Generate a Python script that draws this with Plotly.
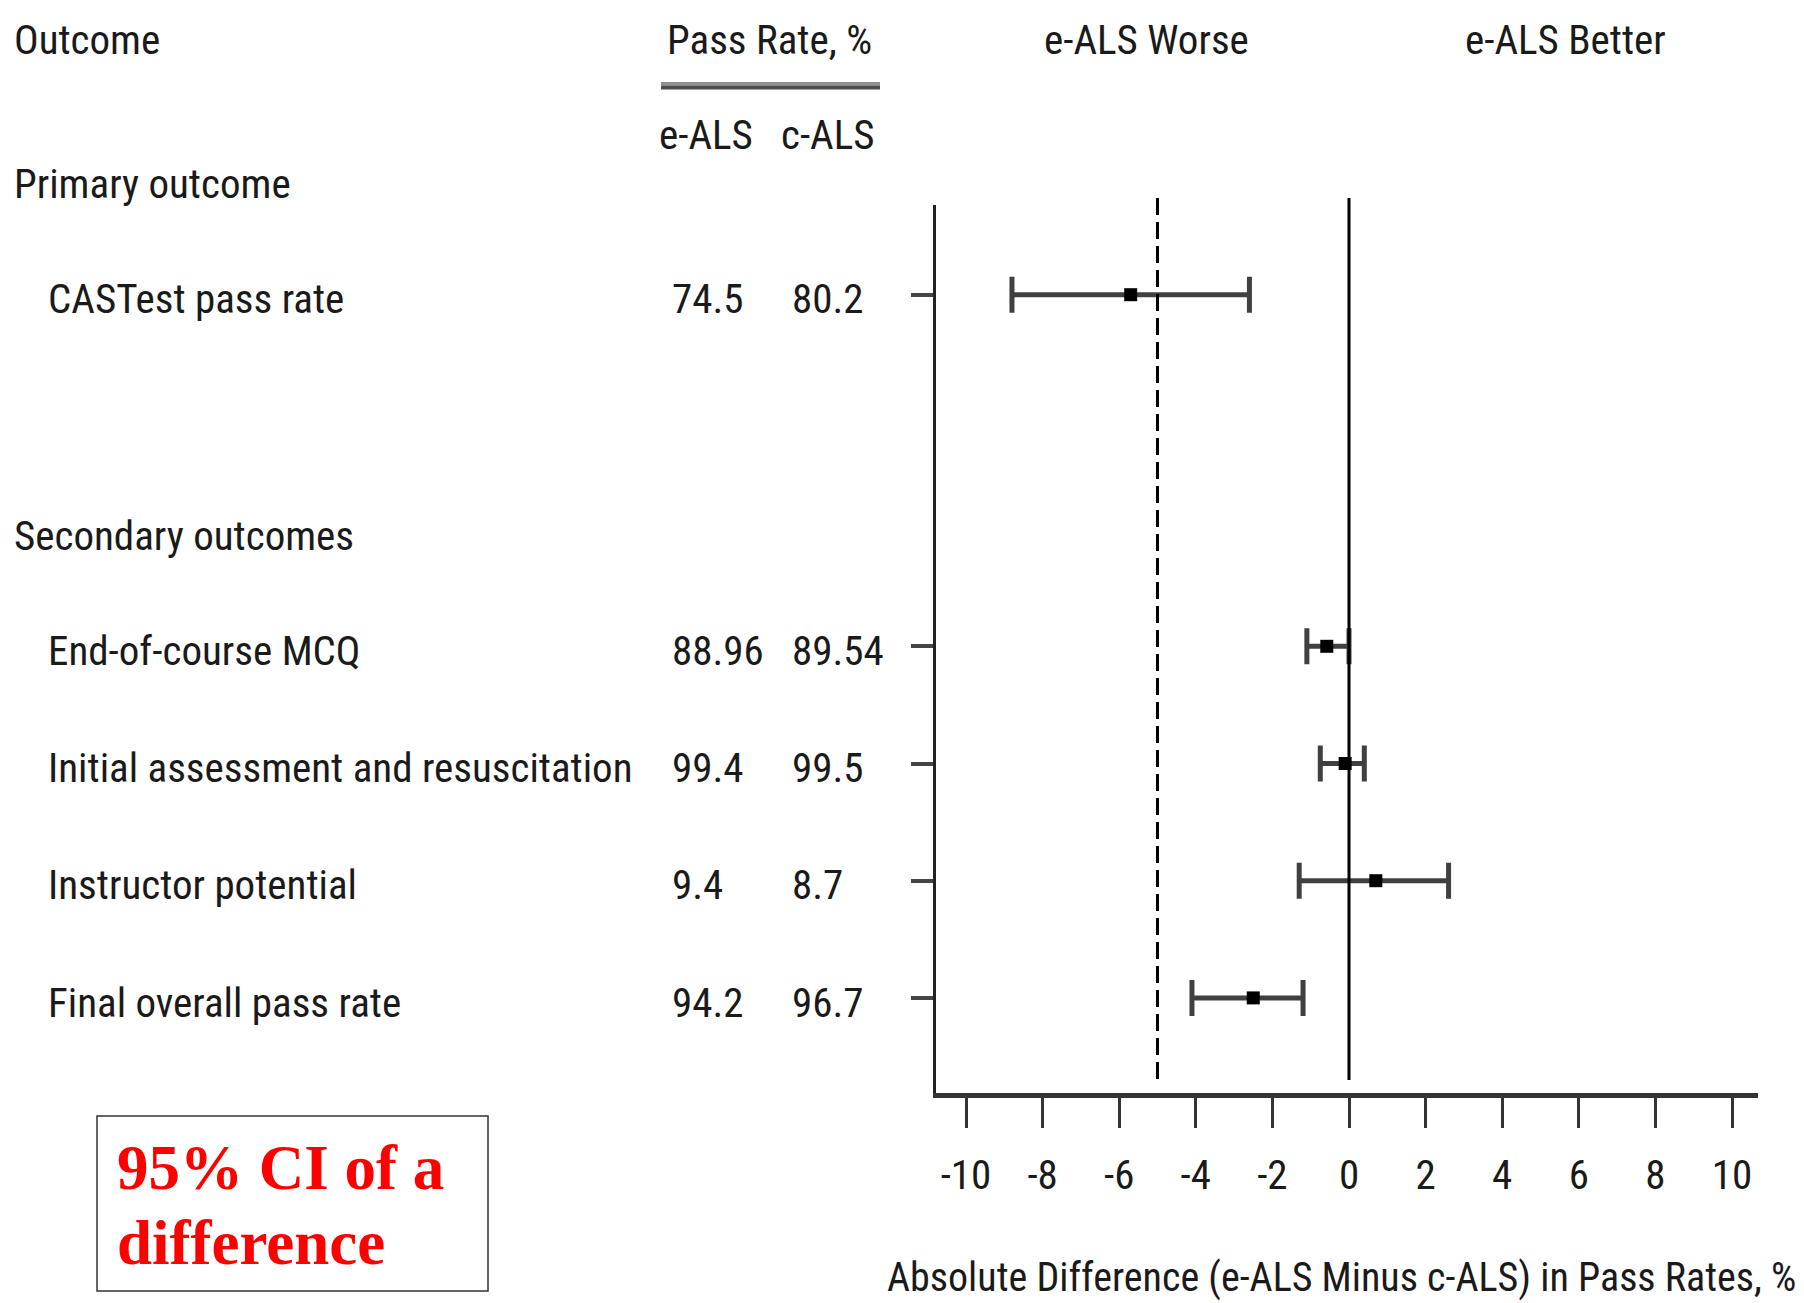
import plotly.graph_objects as go

# ---------------- data ----------------
outcomes = ["CASTest pass rate", "End-of-course MCQ", "Initial assessment and resuscitation",
            "Instructor potential", "Final overall pass rate"]
groups = ["Primary outcome", "Secondary outcomes"]
e_als = ["74.5", "88.96", "99.4", "9.4", "94.2"]
c_als = ["80.2", "89.54", "99.5", "8.7", "96.7"]
diff = [-5.7, -0.58, -0.1, 0.7, -2.5]
ci_lo = [-8.8, -1.1, -0.75, -1.3, -4.1]
ci_hi = [-2.6, 0.0, 0.4, 2.6, -1.2]
x_ticks = [-10, -8, -6, -4, -2, 0, 2, 4, 6, 8, 10]
margin_line = -5  # non-inferiority margin (dashed)

# ---------------- layout constants ----------------
W, H = 1804, 1303
FONT = "Roboto Condensed, Liberation Sans Narrow, DejaVu Sans Condensed, sans-serif"
FS = 41
TXT = "#1a1a1a"
row_slot = [0, 3, 4, 5, 6]          # vertical slots of the data rows
group_px = [184, 536]               # vertical pixel of group headers
Y_TOP_PX, Y_BOT_PX = 205, 1093
SLOT_A, SLOT_B = 294.7, 117.2       # px = A + B*slot


def slot_of(p):
    return (p - SLOT_A) / SLOT_B


def px(p):
    return p / W


def py(p):
    return 1 - p / H


err_plus = [h - d for h, d in zip(ci_hi, diff)]
err_minus = [d - l for d, l in zip(diff, ci_lo)]

fig = go.Figure()
fig.add_trace(go.Scatter(
    x=diff, y=row_slot, mode="markers",
    marker=dict(symbol="square", size=13, color="black"),
    error_x=dict(type="data", symmetric=False, array=err_plus, arrayminus=err_minus,
                 color="#404040", thickness=5, width=18),
    showlegend=False, hoverinfo="skip", cliponaxis=False,
))

ann = []


def text(t, x, y, xanchor="left", yref="paper", size=FS, color=TXT, family=FONT):
    ann.append(dict(text=t, x=x, y=y, xref="paper", yref=yref, xanchor=xanchor,
                    yanchor="middle", showarrow=False,
                    font=dict(family=family, size=size, color=color)))


# headers
text("Outcome", px(12), py(40))
text("Pass Rate, %", px(769), py(40), "center")
text("e-ALS", px(706), py(135), "center")
text("c-ALS", px(828), py(135), "center")
text("e-ALS Worse", px(1146), py(40), "center")
text("e-ALS Better", px(1565), py(40), "center")
for g, p in zip(groups, group_px):
    text(g, px(12), py(p))
for i, name in enumerate(outcomes):
    s = row_slot[i] + 0.04
    text(name, px(46), s, yref="y")
    text(e_als[i], px(670), s, yref="y")
    text(c_als[i], px(790), s, yref="y")

# axis title
text("Absolute Difference (e-ALS Minus c-ALS) in Pass Rates, %", px(1341), py(1277), "center", size=40)

# red note
SERIF = "Liberation Serif, Times New Roman, serif"
text("<b>95% CI of a</b>", px(115), py(1168), size=63, color="#ff0000", family=SERIF)
text("<b>difference</b>", px(115), py(1243), size=63, color="#ff0000", family=SERIF)

shapes = [
    # double rule under Pass Rate
    dict(type="rect", xref="paper", yref="paper", x0=px(661), x1=px(880), y0=py(82), y1=py(85.5),
         fillcolor="#909090", line=dict(width=0)),
    dict(type="rect", xref="paper", yref="paper", x0=px(661), x1=px(880), y0=py(85.5), y1=py(89.5),
         fillcolor="#4d4d4d", line=dict(width=0)),
    # zero line
    dict(type="line", xref="x", yref="paper", x0=0, x1=0, y0=py(198), y1=py(1080),
         line=dict(color="black", width=3)),
    # margin dashed line
    dict(type="line", xref="x", yref="paper", x0=margin_line, x1=margin_line, y0=py(198), y1=py(1080),
         line=dict(color="black", width=3, dash="17px,7px")),
    # note box
    dict(type="rect", xref="paper", yref="paper", x0=px(97), x1=px(488), y0=py(1116), y1=py(1291),
         line=dict(color="#333333", width=1.5), fillcolor="rgba(0,0,0,0)"),
]

x0v = (936 - 1349) / 38.3
x1v = (1758 - 1349) / 38.3

fig.update_layout(
    width=W, height=H, margin=dict(l=0, r=0, t=0, b=0),
    paper_bgcolor="white", plot_bgcolor="white",
    annotations=ann, shapes=shapes,
    xaxis=dict(domain=[px(936), px(1758)], range=[x0v, x1v], showgrid=False, zeroline=False,
               showline=True, linewidth=5, linecolor="#333333",
               ticks="outside", ticklen=30, tickwidth=3, tickcolor="#333333",
               tickvals=x_ticks, ticktext=[str(v) for v in x_ticks],
               ticklabelstandoff=12,
               tickfont=dict(family=FONT, size=FS, color=TXT), anchor="y"),
    yaxis=dict(domain=[py(Y_BOT_PX), py(Y_TOP_PX)], range=[slot_of(Y_BOT_PX), slot_of(Y_TOP_PX)],
               showgrid=False, zeroline=False, showline=True, linewidth=3, linecolor="#222222",
               ticks="outside", ticklen=22, tickwidth=4, tickcolor="#444444",
               tickvals=row_slot, showticklabels=False, anchor="x"),
)

fig.write_html("out.html", config={"displayModeBar": False},
               post_script="document.body.style.margin='0';document.body.style.overflow='hidden';")
